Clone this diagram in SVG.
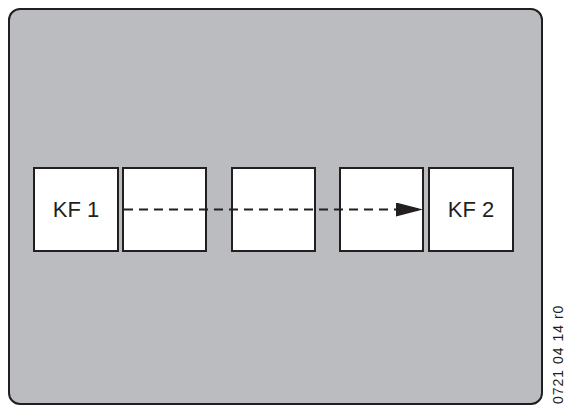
<svg xmlns="http://www.w3.org/2000/svg" width="565" height="406" viewBox="0 0 565 406">
<style>
.box{fill:#fff;stroke:#231f20;stroke-width:2}
.lbl{font-family:"Liberation Sans Narrow","Liberation Sans",Arial,sans-serif;font-size:22px;fill:#231f20;text-anchor:middle}
.code{font-family:"Liberation Sans",Arial,sans-serif;font-size:14px;letter-spacing:1px;fill:#231f20}
</style>
<defs>
<marker id="ah" markerWidth="27" markerHeight="14" refX="27" refY="7" orient="auto" markerUnits="userSpaceOnUse">
<path d="M0,0 L27,7 L0,14 Z" fill="#231f20"/>
</marker>
</defs>
<g id="frame">
<rect x="9" y="9" width="533" height="395" rx="11" ry="11" fill="#bbbcc0" stroke="#231f20" stroke-width="2"/>
</g>
<g id="kf1"><rect class="box" x="34" y="168" width="84" height="83"/><text class="lbl" x="76" y="217">KF 1</text></g>
<g id="f2"><rect class="box" x="123" y="168" width="83" height="83"/></g>
<g id="f3"><rect class="box" x="232" y="168" width="83" height="83"/></g>
<g id="f4"><rect class="box" x="340" y="168" width="83" height="83"/></g>
<g id="kf2"><rect class="box" x="429" y="168" width="84" height="83"/><text class="lbl" x="471" y="217">KF 2</text></g>
<g id="connectors">
<line x1="124" y1="209.5" x2="423" y2="209.5" stroke="#231f20" stroke-width="2" stroke-dasharray="9,6" marker-end="url(#ah)"/>
</g>
<text class="code" x="563" y="404" transform="rotate(-90 563 404)">0721 04 14 r0</text>
</svg>
